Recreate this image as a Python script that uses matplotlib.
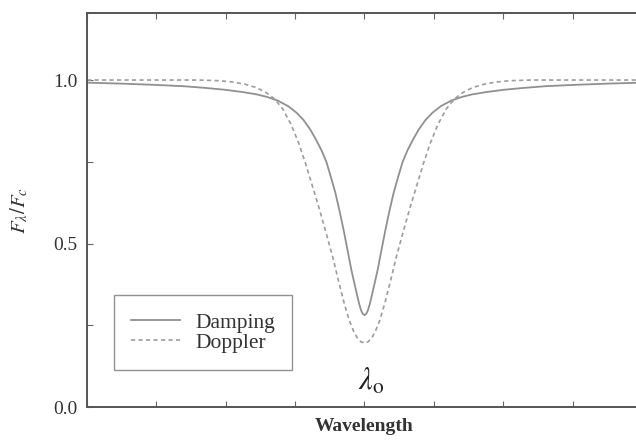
import matplotlib
matplotlib.use("Agg")
import matplotlib.pyplot as plt
from matplotlib.ticker import MultipleLocator, NullFormatter

# values (x in tick units, line centre at 0)
x_damping = [-4.0, -3.5, -3.0, -2.6, -2.3, -2.0, -1.75, -1.55, -1.4, -1.25,
             -1.1, -0.98, -0.88, -0.78, -0.70, -0.62, -0.55, -0.48, -0.42,
             -0.36, -0.30, -0.24, -0.19, -0.15, -0.115, -0.08, -0.05, -0.025, 0.0,
             0.025, 0.05, 0.08, 0.115, 0.15, 0.19, 0.24, 0.30, 0.36, 0.42,
             0.48, 0.55, 0.62, 0.70, 0.78, 0.88, 0.98, 1.1, 1.25, 1.4,
             1.55, 1.75, 2.0, 2.3, 2.6, 3.0, 3.5, 4.0]
y_damping = [0.992, 0.989, 0.985, 0.981, 0.976, 0.970, 0.963, 0.956, 0.948, 0.937,
             0.920, 0.900, 0.878, 0.848, 0.818, 0.785, 0.750, 0.700, 0.655,
             0.600, 0.540, 0.475, 0.420, 0.382, 0.350, 0.318, 0.296, 0.285, 0.281,
             0.285, 0.296, 0.318, 0.350, 0.382, 0.420, 0.475, 0.540, 0.600, 0.655,
             0.700, 0.750, 0.785, 0.818, 0.848, 0.878, 0.900, 0.920, 0.937, 0.948,
             0.956, 0.963, 0.970, 0.976, 0.981, 0.985, 0.989, 0.992]

x_doppler = [-4.0, -2.4, -2.1, -1.9, -1.72, -1.56, -1.42, -1.30, -1.18, -1.06,
             -0.95, -0.85, -0.75, -0.65, -0.55, -0.46, -0.38, -0.29, -0.22,
             -0.15, -0.10, -0.05, 0.0,
             0.05, 0.10, 0.15, 0.22, 0.29, 0.38, 0.46, 0.55, 0.65, 0.75,
             0.85, 0.95, 1.06, 1.18, 1.30, 1.42, 1.56, 1.72, 1.9, 2.1, 2.4, 4.0]
y_doppler = [1.0, 1.0, 0.998, 0.994, 0.987, 0.977, 0.962, 0.943, 0.912, 0.865,
             0.808, 0.745, 0.675, 0.605, 0.530, 0.460, 0.390, 0.315, 0.265,
             0.228, 0.210, 0.199, 0.196,
             0.199, 0.210, 0.228, 0.265, 0.315, 0.390, 0.460, 0.530, 0.605, 0.675,
             0.745, 0.808, 0.865, 0.912, 0.943, 0.962, 0.977, 0.987, 0.994, 0.998, 1.0, 1.0]

series_labels = ["Damping", "Doppler"]
y_tick_labels = ["0.0", "0.5", "1.0"]

plt.rcParams["font.family"] = ["Liberation Serif", "DejaVu Serif"]
plt.rcParams["mathtext.fontset"] = "stix"

fig = plt.figure(figsize=(6.36, 4.41), dpi=100)
ax = fig.add_axes([87 / 636, 34 / 441, 555 / 636, 394 / 441])

ax.plot(x_damping, y_damping, color="#909090", lw=1.3, ls="-", label=series_labels[0])
ax.plot(x_doppler, y_doppler, color="#9c9c9c", lw=1.2, ls=(0, (2.5, 2)), label=series_labels[1])

ax.set_xlim(-4, 4)
ax.set_ylim(0, 1.205)
ax.xaxis.set_major_locator(MultipleLocator(1))
ax.xaxis.set_major_formatter(NullFormatter())
ax.set_yticks([0.0, 0.5, 1.0])
ax.set_yticklabels(y_tick_labels)
ax.yaxis.set_minor_locator(MultipleLocator(0.25))
ax.tick_params(which="both", direction="in", top=True, right=True,
               length=4, width=0.8, colors="#666666", labelcolor="#333333",
               labelsize=14, pad=7)
for s in ax.spines.values():
    s.set_color("#555555")
    s.set_linewidth(1.4)

ax.set_xlabel("Wavelength", fontsize=14, fontweight="bold", color="#333333", labelpad=1)
ax.set_ylabel(r"$F_\lambda/F_c$", fontsize=15, color="#333333", labelpad=16)

ax.text(0.1, 0.03, r"$\lambda_{\rm o}$", fontsize=22, ha="center", va="bottom",
        color="#222222")

leg = ax.legend(loc="lower left", bbox_to_anchor=(0.048, 0.094), fontsize=15.5,
                frameon=True, fancybox=False, handlelength=2.3, handletextpad=0.7,
                borderpad=0.8, labelspacing=0.0, borderaxespad=0)
leg.get_frame().set_edgecolor("#777777")
leg.get_frame().set_linewidth(1.0)
for t in leg.get_texts():
    t.set_color("#333333")

fig.savefig("out.png", dpi=100)
